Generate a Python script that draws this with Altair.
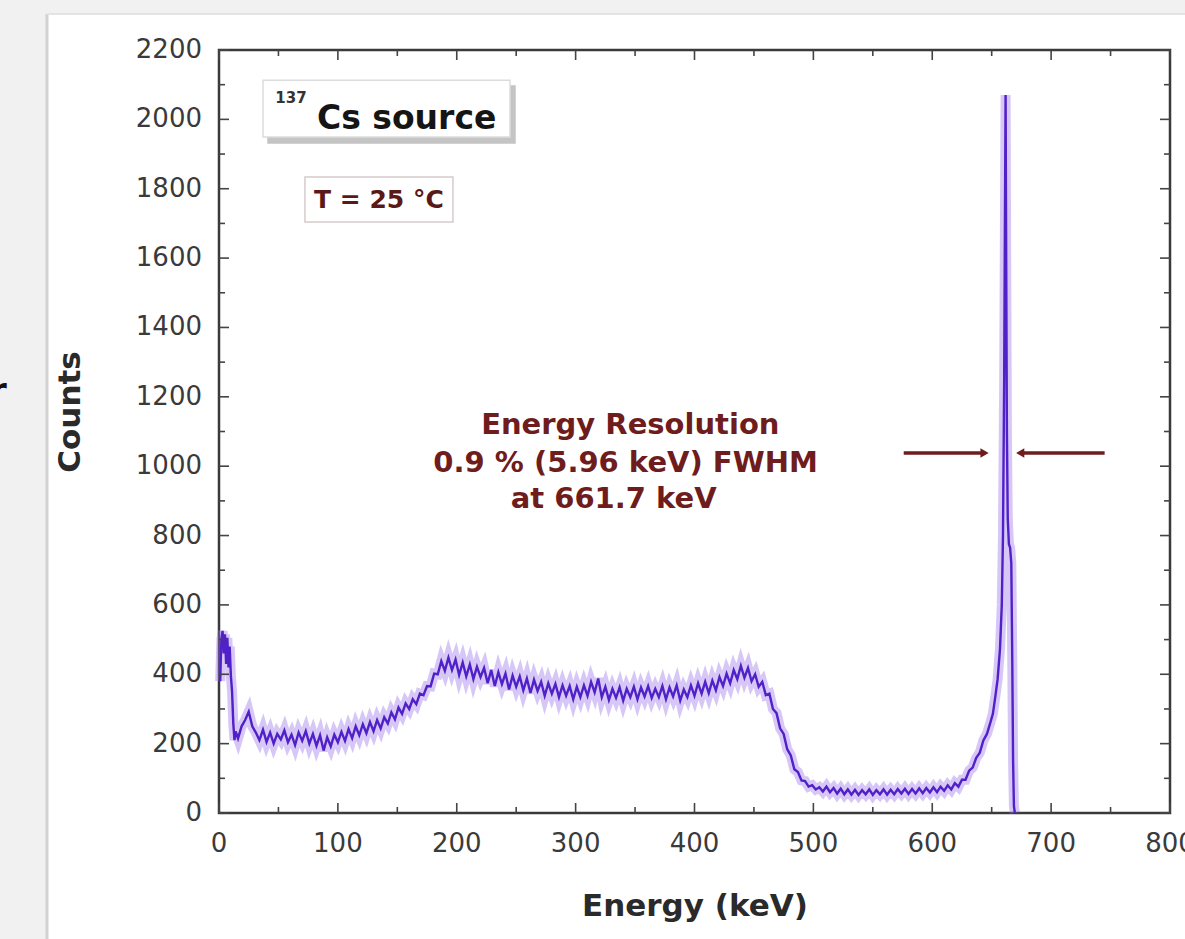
import altair as alt
import pandas as pd

# ---------------- data ----------------
energy = [
    1, 2, 3, 4, 5, 6, 7, 8, 9, 10, 11, 12, 13, 14,
    16, 19, 22, 25, 28, 31, 34, 37, 40, 43, 46, 49, 52, 55, 58, 61, 64, 67, 70,
    73, 76, 79, 82, 85, 88, 91, 94, 97, 100, 103, 106, 109, 112, 115, 118, 121,
    124, 127, 130, 133, 136, 139, 142, 145, 148, 151, 154, 157, 160, 163, 166,
    169, 172, 175, 178, 181, 184, 187, 190, 193, 196, 199, 202, 205, 208, 211,
    214, 217, 220, 223, 226, 229, 232, 235, 238, 241, 244, 247, 250, 253, 256,
    259, 262, 265, 268, 271, 274, 277, 280, 283, 286, 289, 292, 295, 298, 301,
    304, 307, 310, 313, 316, 319, 322, 325, 328, 331, 334, 337, 340, 343, 346,
    349, 352, 355, 358, 361, 364, 367, 370, 373, 376, 379, 382, 385, 388, 391,
    394, 397, 400, 403, 406, 409, 412, 415, 418, 421, 424, 427, 430, 433, 436,
    439, 442, 445, 448, 451, 454, 457, 460, 463, 466, 469, 472, 475, 478, 481,
    484, 487, 490, 493, 496, 499, 502, 505, 508, 511, 514, 517, 520, 523, 526,
    529, 532, 535, 538, 541, 544, 547, 550, 553, 556, 559, 562, 565, 568, 571,
    574, 577, 580, 583, 586, 589, 592, 595, 598, 601, 604, 607, 610, 613, 616,
    619, 622, 625, 628, 631, 634, 637, 640, 643, 646, 649, 651, 653, 655, 657,
    658.5, 659.5, 660.5, 661.2, 661.7, 662.2, 662.8, 663.5, 664.5, 665.5, 666.5,
    667.3, 668, 668.7, 669.5,
]
counts = [
    380, 500, 525, 460, 515, 430, 505, 420, 480, 395, 350, 260, 210, 235,
    215, 250, 268, 292, 250, 232, 210, 240, 205, 232, 200, 228, 212, 238, 204, 226, 196, 232, 208,
    236, 200, 228, 194, 224, 180, 218, 192, 226, 204, 234, 208, 242, 216, 250, 224, 256,
    230, 262, 236, 268, 244, 276, 258, 290, 270, 304, 286, 316, 300, 328, 314,
    344, 340, 366, 365, 402, 400, 438, 410, 448, 412, 442, 398, 434, 394, 428,
    386, 422, 392, 418, 374, 412, 366, 406, 372, 402, 356, 396, 364, 394, 354,
    388, 346, 384, 352, 378, 338, 374, 344, 372, 334, 368, 338, 366, 328, 364,
    334, 368, 338, 378, 348, 388, 334, 364, 326, 358, 332, 362, 324, 358, 334,
    364, 328, 362, 336, 366, 332, 358, 334, 366, 328, 362, 336, 368, 324, 356,
    334, 368, 338, 374, 344, 378, 346, 382, 354, 392, 366, 402, 374, 412, 386,
    424, 390, 418, 380, 400, 364, 378, 340, 344, 300, 288, 244, 228, 184, 166,
    126, 118, 94, 92, 76, 80, 68, 74, 62, 76, 60, 72, 56, 70, 54,
    68, 53, 67, 52, 66, 54, 68, 52, 66, 54, 68, 53, 67, 54, 69,
    56, 70, 55, 69, 56, 71, 57, 72, 59, 74, 60, 76, 64, 80, 68,
    86, 76, 96, 96, 122, 131, 159, 174, 209, 228, 262, 286, 334, 386, 474,
    600, 800, 1250, 1750, 2070, 1600, 1100, 850, 775, 765, 720,
    450, 150, 20, 0,
]

x_major = [0, 100, 200, 300, 400, 500, 600, 700, 800]
x_labels = ["0", "100", "200", "300", "400", "500", "600", "700", "800"]
x_minor = [50, 150, 250, 350, 450, 550, 650, 750]
y_major = [0, 200, 400, 600, 800, 1000, 1200, 1400, 1600, 1800, 2000, 2200]
y_labels = ["0", "200", "400", "600", "800", "1000", "1200", "1400", "1600",
            "1800", "2000", "2200"]
y_minor = [100, 300, 500, 700, 900, 1100, 1300, 1500, 1700, 1900, 2100]

x_title = "Energy (keV)"
y_title = "Counts"

res_lines = ["Energy Resolution", "0.9 % (5.96 keV) FWHM", "at 661.7 keV"]
res_x = [346, 342, 332]
res_y = [1119, 1010, 905]

# ---------------- layout ----------------
W, H = 951, 763
FONT = "DejaVu Sans"
LINE = "#5020c8"
HALO = "#9b72ea"
RED = "#6e1c1c"
LBL = "#3a3a3a"

xs = alt.Scale(domain=[0, 800], nice=False, zero=False)
ys = alt.Scale(domain=[0, 2200], nice=False)

spec = pd.DataFrame({"energy": energy, "counts": counts})
one = pd.DataFrame({"a": [0]})

halo = alt.Chart(spec).mark_line(color=HALO, strokeWidth=10, opacity=0.4).encode(
    x=alt.X("energy:Q", scale=xs, axis=None), y=alt.Y("counts:Q", scale=ys, axis=None))
line = alt.Chart(spec).mark_line(color=LINE, strokeWidth=2.4).encode(
    x=alt.X("energy:Q", scale=xs, axis=None), y=alt.Y("counts:Q", scale=ys, axis=None))

# page decoration (grey margin left/top, panel edge)
grey_left = alt.Chart(one).mark_rect(color="#f1f1f1").encode(
    x=alt.value(-219), x2=alt.value(-172), y=alt.value(-50), y2=alt.value(H + 126))
grey_top = alt.Chart(one).mark_rect(color="#f1f1f1").encode(
    x=alt.value(-219), x2=alt.value(W + 15), y=alt.value(-50), y2=alt.value(-36))
edge_left = alt.Chart(one).mark_rule(color="#d2d2d2", strokeWidth=3).encode(
    x=alt.value(-172), y=alt.value(-36), y2=alt.value(H + 126))
edge_top = alt.Chart(one).mark_rule(color="#e4e4e4", strokeWidth=2).encode(
    x=alt.value(-172), x2=alt.value(W + 15), y=alt.value(-36))
stray = alt.Chart(one).mark_text(text="r", font=FONT, fontSize=34, fontWeight="bold",
                                 color="#111", align="left", baseline="alphabetic").encode(
    x=alt.value(-229), y=alt.value(352))

# boxes in data coordinates
box_df = pd.DataFrame({
    "x1": [41.2, 37.0, 72.3], "x2": [249.0, 244.8, 196.8],
    "y1": [2096, 2113, 1834], "y2": [1932, 1949, 1704],
    "k": ["shadow", "main", "temp"],
})
boxes = alt.Chart(box_df).mark_rect(strokeWidth=1.5).encode(
    x=alt.X("x1:Q", scale=xs, axis=None), x2="x2:Q",
    y=alt.Y("y1:Q", scale=ys, axis=None), y2="y2:Q",
    fill=alt.Fill("k:N", scale=alt.Scale(domain=["shadow", "main", "temp"],
                                         range=["#c4c4c4", "#ffffff", "#ffffff"]), legend=None),
    stroke=alt.Stroke("k:N", scale=alt.Scale(domain=["shadow", "main", "temp"],
                                             range=["#c4c4c4", "#dcdcdc", "#d6cccc"]), legend=None),
)

# inward ticks on all four sides
TK = "#444444"
def xticks(vals, length):
    d = pd.DataFrame({"v": vals})
    b = alt.Chart(d).mark_rule(color=TK, strokeWidth=1.6).encode(
        x=alt.X("v:Q", scale=xs, axis=None), y=alt.value(H), y2=alt.value(H - length))
    t = alt.Chart(d).mark_rule(color=TK, strokeWidth=1.6).encode(
        x=alt.X("v:Q", scale=xs, axis=None), y=alt.value(0), y2=alt.value(length))
    return [b, t]

def yticks(vals, length):
    d = pd.DataFrame({"v": vals})
    l = alt.Chart(d).mark_rule(color=TK, strokeWidth=1.6).encode(
        y=alt.Y("v:Q", scale=ys, axis=None), x=alt.value(0), x2=alt.value(length))
    r = alt.Chart(d).mark_rule(color=TK, strokeWidth=1.6).encode(
        y=alt.Y("v:Q", scale=ys, axis=None), x=alt.value(W), x2=alt.value(W - length))
    return [l, r]

tick_layers = xticks(x_major, 10) + xticks(x_minor, 6) + yticks(y_major, 10) + yticks(y_minor, 6)

# tick labels and axis titles
xl = alt.Chart(pd.DataFrame({"v": x_major, "t": x_labels})).mark_text(
    font=FONT, fontSize=26, color=LBL, align="center", baseline="middle").encode(
    x=alt.X("v:Q", scale=xs, axis=None), y=alt.value(H + 31), text="t:N")
yl = alt.Chart(pd.DataFrame({"v": y_major, "t": y_labels})).mark_text(
    font=FONT, fontSize=26, color=LBL, align="right", baseline="middle").encode(
    y=alt.Y("v:Q", scale=ys, axis=None), x=alt.value(-17), text="t:N")
xt = alt.Chart(pd.DataFrame({"t": [x_title]})).mark_text(
    font=FONT, fontSize=31, fontWeight="bold", color="#2a2a2a", align="center",
    baseline="middle").encode(x=alt.value(476), y=alt.value(H + 94), text="t:N")
yt = alt.Chart(pd.DataFrame({"t": [y_title]})).mark_text(
    font=FONT, fontSize=31, fontWeight="bold", color="#2a2a2a", align="center",
    baseline="middle", angle=270).encode(x=alt.value(-148), y=alt.value(362), text="t:N")

# annotation texts
iso_df = pd.DataFrame({"x": [60.5], "y": [2062], "t": ["137"]})
iso = alt.Chart(iso_df).mark_text(font=FONT, fontSize=15, fontWeight="bold", color="#333",
                                  align="center", baseline="middle").encode(
    x=alt.X("x:Q", scale=xs, axis=None), y=alt.Y("y:Q", scale=ys, axis=None), text="t:N")
src_df = pd.DataFrame({"x": [82.4], "y": [1972], "t": ["Cs source"]})
src = alt.Chart(src_df).mark_text(font=FONT, fontSize=33, fontWeight="bold", color="#151515",
                                  align="left", baseline="alphabetic").encode(
    x=alt.X("x:Q", scale=xs, axis=None), y=alt.Y("y:Q", scale=ys, axis=None), text="t:N")
tmp_df = pd.DataFrame({"x": [134.5], "y": [1768], "t": ["T = 25 °C"]})
tmp = alt.Chart(tmp_df).mark_text(font=FONT, fontSize=25, fontWeight="bold", color="#5a1818",
                                  align="center", baseline="middle").encode(
    x=alt.X("x:Q", scale=xs, axis=None), y=alt.Y("y:Q", scale=ys, axis=None), text="t:N")
res_df = pd.DataFrame({"x": res_x, "y": res_y, "t": res_lines})
res = alt.Chart(res_df).mark_text(font=FONT, fontSize=29, fontWeight="bold", color=RED,
                                  align="center", baseline="middle").encode(
    x=alt.X("x:Q", scale=xs, axis=None), y=alt.Y("y:Q", scale=ys, axis=None), text="t:N")

# FWHM arrows
arr_df = pd.DataFrame({"x1": [576, 745], "x2": [642, 676], "y": [1038, 1038]})
arr_lines = alt.Chart(arr_df).mark_rule(color=RED, strokeWidth=3.5).encode(
    x=alt.X("x1:Q", scale=xs, axis=None), x2="x2:Q", y=alt.Y("y:Q", scale=ys, axis=None))
head_r = alt.Chart(pd.DataFrame({"x": [644], "y": [1038]})).mark_point(
    shape="triangle-right", filled=True, color=RED, size=90, opacity=1).encode(
    x=alt.X("x:Q", scale=xs, axis=None), y=alt.Y("y:Q", scale=ys, axis=None))
head_l = alt.Chart(pd.DataFrame({"x": [674], "y": [1038]})).mark_point(
    shape="triangle-left", filled=True, color=RED, size=90, opacity=1).encode(
    x=alt.X("x:Q", scale=xs, axis=None), y=alt.Y("y:Q", scale=ys, axis=None))

chart = alt.layer(
    grey_left, grey_top, edge_left, edge_top, stray,
    boxes, halo, line, *tick_layers, xl, yl, xt, yt,
    iso, src, tmp, res, arr_lines, head_r, head_l,
).properties(
    width=W, height=H,
    autosize=alt.AutoSizeParams(type="none"),
    padding={"left": 219, "top": 50, "right": 15, "bottom": 126},
    background="white",
).configure_view(stroke="#3a3a3a", strokeWidth=2.5, fill="white")

chart.save("out.html", embed_options={"renderer": "svg", "actions": False})
